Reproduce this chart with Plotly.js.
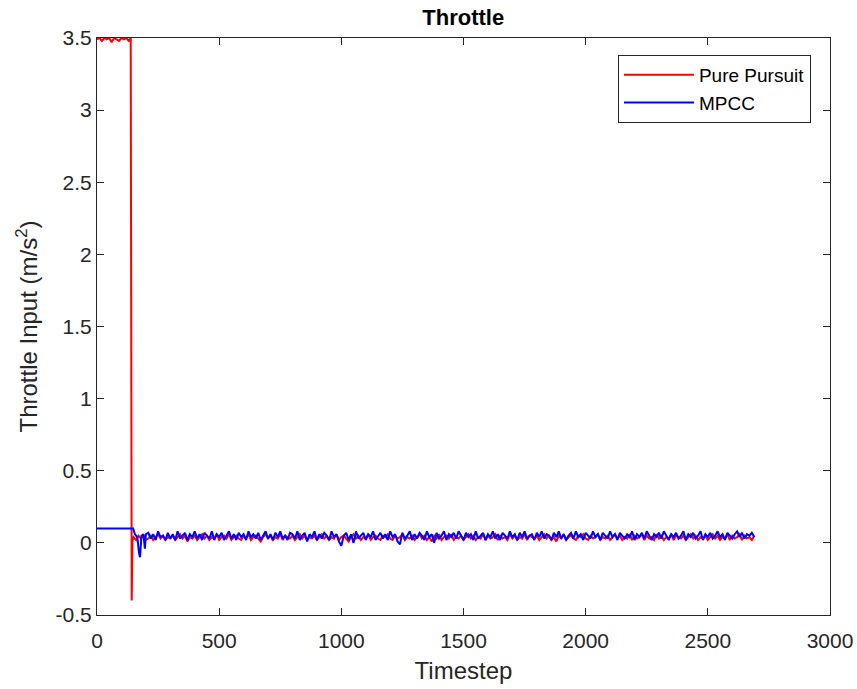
<!DOCTYPE html>
<html>
<head>
<meta charset="utf-8">
<script src="https://cdn.plot.ly/plotly-3.0.1.min.js"></script>
<style>html,body{margin:0;padding:0;background:#fff;} #chart{width:857px;height:689px;}</style>
</head>
<body>
<div id="chart"></div>
<script>
// Pure Pursuit: initial saturated segment
const ppHeadT = [0, 10, 20, 30, 40, 50, 60, 70, 80, 90, 100, 110, 120, 130, 138, 142, 145, 150, 160, 170, 180, 190, 200];
const ppHeadY = [3.49, 3.5, 3.48, 3.5, 3.49, 3.5, 3.47, 3.5, 3.49, 3.48, 3.5, 3.49, 3.5, 3.48, 3.5, -0.4, 0.02, 0.04, 0.02, 0.05, 0.03, 0.05, 0.02];
// MPCC: initial segment
const mpccHeadT = [0, 50, 100, 148, 155, 165, 172, 176, 182, 190, 196, 200];
const mpccHeadY = [0.1, 0.1, 0.1, 0.1, 0.06, 0.04, -0.07, -0.1, 0.05, 0.06, -0.04, 0.06];

// Noisy band, sampled every 10 timesteps from 210 to 2690
const bandStart = 210, bandStep = 10;
const mpccBand = [
0.07,0.03,0.06,0.02,0.08,0.04,0.05,0.02,0.07,0.03,
0.06,0.02,0.08,0.03,0.05,0.07,0.02,0.06,0.04,0.08,
0.03,0.06,0.02,0.07,0.05,0.03,0.08,0.02,0.06,0.04,
0.07,0.02,0.05,0.08,0.03,0.06,0.02,0.07,0.04,0.06,
0.02,0.08,0.04,0.06,0.03,0.07,0.02,0.05,0.08,0.03,
0.06,0.02,0.07,0.04,0.08,0.03,0.05,0.02,0.07,0.06,
0.03,0.08,0.02,0.05,0.07,0.01,0.06,0.04,0.08,0.02,
0.06,0.03,0.07,0.05,0.02,0.08,0.04,0.06,0.01,-0.02,
0.05,0.07,0.02,0.06,0.0,0.08,0.03,0.05,0.07,0.02,
0.06,0.04,0.08,0.02,0.05,0.07,0.03,0.06,0.02,0.08,
0.04,0.06,0.01,-0.01,0.07,0.03,0.05,0.08,0.02,0.06,
0.03,0.07,0.05,0.02,0.08,0.04,0.06,0.0,0.07,0.03,
0.05,0.08,0.02,0.06,0.04,0.07,0.03,0.08,0.05,0.02,
0.07,0.04,0.06,0.02,0.08,0.03,0.05,0.07,0.02,0.06,
0.04,0.08,0.03,0.06,0.02,0.07,0.05,0.03,0.08,0.04,
0.06,0.02,0.07,0.04,0.08,0.03,0.05,0.06,0.02,0.07,
0.04,0.08,0.03,0.06,0.05,0.02,0.07,0.04,0.08,0.03,
0.06,0.02,0.05,0.07,0.03,0.08,0.04,0.06,0.02,0.07,
0.05,0.03,0.08,0.04,0.06,0.02,0.07,0.05,0.03,0.08,
0.04,0.06,0.02,0.07,0.05,0.03,0.06,0.04,0.08,0.02,
0.06,0.04,0.07,0.03,0.08,0.05,0.02,0.06,0.04,0.07,
0.03,0.08,0.05,0.02,0.06,0.04,0.07,0.03,0.05,0.08,
0.02,0.06,0.04,0.07,0.03,0.05,0.08,0.02,0.06,0.04,
0.07,0.03,0.05,0.08,0.04,0.06,0.02,0.07,0.05,0.03,
0.06,0.08,0.04,0.07,0.03,0.06,0.05,0.07,0.04
];
const ppBand = [
0.03,0.05,0.02,0.04,0.06,0.03,0.05,0.02,0.04,0.03,
0.05,0.02,0.04,0.06,0.03,0.05,0.01,0.04,0.03,0.05,
0.02,0.04,0.06,0.03,0.05,0.02,0.04,0.03,0.06,0.02,
0.04,0.05,0.03,0.06,0.02,0.04,0.05,0.03,0.02,0.05,
0.03,0.06,0.02,0.04,0.05,0.03,0.01,0.04,0.06,0.03,
0.05,0.02,0.04,0.03,0.06,0.02,0.05,0.04,0.03,0.05,
0.02,0.04,0.06,0.03,0.05,0.02,0.04,0.03,0.05,0.02,
0.04,0.06,0.03,0.05,0.02,0.04,0.03,0.06,0.02,0.04,
0.05,0.03,0.01,0.04,0.06,0.03,0.05,0.02,0.04,0.03,
0.06,0.02,0.04,0.05,0.03,0.02,0.05,0.04,0.06,0.03,
0.02,0.05,0.03,0.04,0.06,0.02,0.04,0.03,0.05,0.02,
0.04,0.06,0.03,0.05,0.02,0.04,0.01,0.05,0.03,0.06,
0.02,0.04,0.05,0.03,0.06,0.02,0.04,0.03,0.05,0.02,
0.04,0.06,0.03,0.05,0.02,0.04,0.03,0.06,0.02,0.05,
0.03,0.04,0.06,0.02,0.05,0.03,0.04,0.02,0.06,0.03,
0.05,0.02,0.04,0.03,0.06,0.02,0.05,0.04,0.03,0.05,
0.02,0.04,0.06,0.03,0.05,0.02,0.04,0.01,0.05,0.03,
0.06,0.02,0.04,0.05,0.03,0.02,0.05,0.04,0.06,0.03,
0.02,0.05,0.03,0.04,0.06,0.02,0.04,0.03,0.05,0.02,
0.04,0.06,0.03,0.05,0.02,0.04,0.03,0.06,0.02,0.05,
0.03,0.04,0.06,0.02,0.05,0.03,0.04,0.02,0.06,0.03,
0.05,0.02,0.04,0.03,0.06,0.02,0.05,0.04,0.03,0.05,
0.02,0.04,0.06,0.03,0.05,0.02,0.04,0.03,0.05,0.02,
0.04,0.06,0.03,0.05,0.02,0.04,0.03,0.06,0.02,0.05,
0.03,0.04,0.06,0.02,0.05,0.03,0.04,0.02,0.05
];

const xTickVals = [0, 500, 1000, 1500, 2000, 2500, 3000];
const yTickVals = [-0.5, 0, 0.5, 1, 1.5, 2, 2.5, 3, 3.5];
const yTickText = ['-0.5', '0', '0.5', '1', '1.5', '2', '2.5', '3', '3.5'];

const bandT = mpccBand.map((_, i) => bandStart + i * bandStep);

const ppT = ppHeadT.concat(bandT);
const ppY = ppHeadY.concat(ppBand);
const mpT = mpccHeadT.concat(bandT);
const mpY = mpccHeadY.concat(mpccBand);

const axisColor = '#262626';
const fontFam = 'Liberation Sans, Arial, Helvetica, sans-serif';

const traces = [
  {x: ppT, y: ppY, type: 'scatter', mode: 'lines', name: 'Pure Pursuit',
   line: {color: '#ff0000', width: 2}},
  {x: mpT, y: mpY, type: 'scatter', mode: 'lines', name: 'MPCC',
   line: {color: '#0000ff', width: 2}}
];

const layout = {
  width: 857, height: 689,
  margin: {l: 97, r: 27, t: 38, b: 74},
  paper_bgcolor: '#ffffff', plot_bgcolor: '#ffffff',
  font: {family: fontFam, color: axisColor, size: 20},
  title: {text: '<b>Throttle</b>', font: {size: 22, color: '#000000', family: fontFam},
          x: 0.5405, xref: 'container', xanchor: 'center', y: 1 - 17/689, yanchor: 'middle'},
  showlegend: true,
  legend: {x: 0.974, y: 0.9705, xanchor: 'right', yanchor: 'top',
           bgcolor: '#ffffff', bordercolor: axisColor, borderwidth: 1,
           itemwidth: 70,
           font: {size: 19, color: '#000000'}, tracegroupgap: 0},
  xaxis: {
    range: [0, 3000], tickvals: xTickVals, ticks: 'inside', ticklen: 7, tickwidth: 1,
    tickcolor: axisColor, showline: true, linecolor: axisColor, linewidth: 1, mirror: 'ticks',
    showgrid: false, zeroline: false, tickfont: {size: 21, color: axisColor}, ticklabelstandoff: 7,
    title: {text: 'Timestep', font: {size: 24, color: axisColor}, standoff: 10}
  },
  yaxis: {
    range: [-0.5, 3.5], tickvals: yTickVals, ticktext: yTickText, ticks: 'inside', ticklen: 7, tickwidth: 1,
    tickcolor: axisColor, showline: true, linecolor: axisColor, linewidth: 1, mirror: 'ticks',
    showgrid: false, zeroline: false, tickfont: {size: 21, color: axisColor},
    title: {text: 'Throttle Input (m/s<sup>2</sup>)', font: {size: 24, color: axisColor}, standoff: 11}
  }
};

Plotly.newPlot('chart', traces, layout, {staticPlot: true, displayModeBar: false});
</script>
</body>
</html>
